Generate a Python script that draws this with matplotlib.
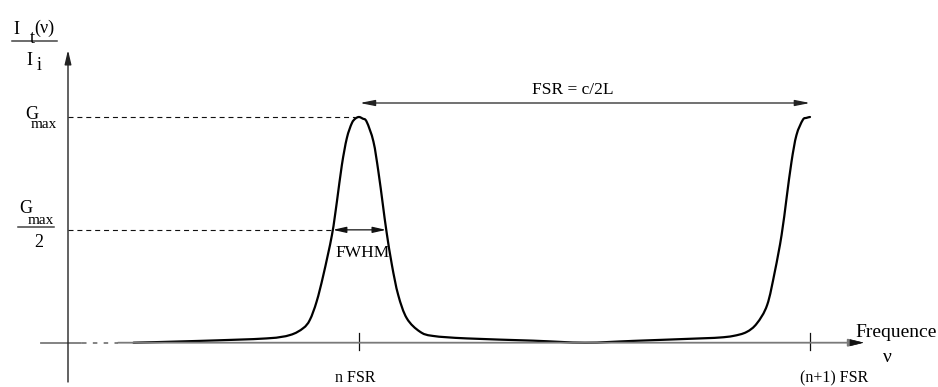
import matplotlib
matplotlib.use('Agg')
import matplotlib.pyplot as plt
from matplotlib.path import Path
from matplotlib.patches import PathPatch

# ---- data ----
# frequency in units of FSR (0 = n FSR, 1 = (n+1) FSR)
freq = [-0.500, -0.353, -0.205, -0.153, -0.124, -0.109, -0.094, -0.079, -0.060,
        -0.049, -0.038, -0.027, -0.016, -0.008, 0.000, 0.008, 0.017, 0.032, 0.043,
        0.053, 0.061, 0.073, 0.087, 0.106, 0.135, 0.164, 0.239, 0.386, 0.501,
        0.608, 0.756, 0.800, 0.830, 0.859, 0.882, 0.905, 0.922, 0.937, 0.948,
        0.959, 0.970, 0.984, 0.992, 1.000]
# transmission I_t/I_i in units of G_max
trans = [0.000, 0.008, 0.019, 0.034, 0.064, 0.101, 0.182, 0.300, 0.477,
         0.625, 0.787, 0.906, 0.972, 0.993, 1.000, 0.993, 0.979, 0.891, 0.758,
         0.610, 0.492, 0.344, 0.211, 0.108, 0.049, 0.030, 0.019, 0.009, 0.000,
         0.008, 0.019, 0.023, 0.030, 0.047, 0.085, 0.167, 0.315, 0.477, 0.640,
         0.802, 0.920, 0.987, 0.996, 1.000]

tick_positions = [0.0, 1.0]
tick_labels = ['n FSR', '(n+1) FSR']
level_gmax = 1.0
level_half = 0.5
fwhm_bounds = [-0.058, 0.060]
fsr_bounds = [0.002, 1.0]

# ---- figure / coordinate system ----
W, H = 938, 387
fig = plt.figure(figsize=(W / 100, H / 100), dpi=100)
ax = fig.add_axes([0, 0, 1, 1])
x0_px, x1_px = 359.0, 810.0
y0_px, y1_px = 342.7, 117.0
sx = x1_px - x0_px
sy = y0_px - y1_px
ax.set_xlim(-x0_px / sx, (W - x0_px) / sx)
ax.set_ylim((y0_px - H) / sy, y0_px / sy)
ax.axis('off')


def P(xp, yp):
    return ((xp - x0_px) / sx, (y0_px - yp) / sy)


SERIF = ['Liberation Serif', 'DejaVu Serif']
fs = 12.5

# ---- axes ----
yaxis_x = P(68, 0)[0]
ax.annotate('', xy=P(68, 50), xytext=P(68, 382),
            arrowprops=dict(arrowstyle='-|>,head_length=0.85,head_width=0.2',
                            lw=1.0, color='#222222', shrinkA=0, shrinkB=0))
axis_gray = '#7a7a7a'
ax.plot([P(41, 0)[0], P(81, 0)[0]], [0, 0], color=axis_gray, lw=1.3)
ax.plot([P(82, 0)[0], P(118, 0)[0]], [0, 0], color=axis_gray, lw=1.3,
        linestyle=(0, (2.5, 3.5)))
ax.annotate('', xy=P(864, y0_px), xytext=P(118, y0_px),
            arrowprops=dict(arrowstyle='-|>,head_length=0.9,head_width=0.22',
                            lw=1.3, color=axis_gray, shrinkA=0, shrinkB=0))
ax.annotate('', xy=P(864, y0_px), xytext=P(852, y0_px),
            arrowprops=dict(arrowstyle='-|>,head_length=0.9,head_width=0.22',
                            lw=0.5, color='#111111', shrinkA=0, shrinkB=0))

# ticks
tick_lo = P(0, 350)[1]
tick_hi = P(0, 333)[1]
for tp, tl in zip(tick_positions, tick_labels):
    ax.plot([tp, tp], [tick_lo, tick_hi], color='#111111', lw=0.9)
    ax.text(tp - 4 / sx if tp == 0 else tp + 24 / sx, P(0, 382.5)[1], tl,
            ha='center', va='baseline', fontsize=11.5, family=SERIF)

# ---- dashed reference levels ----
ax.plot([yaxis_x, P(355, 0)[0]], [level_gmax, level_gmax], color='#111111',
        lw=0.8, linestyle=(0, (4.5, 3.5)))
ax.plot([yaxis_x, fwhm_bounds[0]], [level_half, level_half], color='#111111',
        lw=0.8, linestyle=(0, (4.5, 3.5)))

# ---- curve (smooth Bezier path through the read points) ----
pts = list(zip(freq, trans))
n = len(pts)
verts = [pts[0]]
codes = [Path.MOVETO]
for i in range(n - 1):
    p0 = pts[i - 1] if i > 0 else pts[i]
    p1 = pts[i]
    p2 = pts[i + 1]
    p3 = pts[i + 2] if i + 2 < n else pts[i + 1]
    c1 = (p1[0] + (p2[0] - p0[0]) / 6.0, p1[1] + (p2[1] - p0[1]) / 6.0)
    c2 = (p2[0] - (p3[0] - p1[0]) / 6.0, p2[1] - (p3[1] - p1[1]) / 6.0)
    verts += [c1, c2, p2]
    codes += [Path.CURVE4, Path.CURVE4, Path.CURVE4]
ax.add_patch(PathPatch(Path(verts, codes), facecolor='none', edgecolor='black',
                       lw=1.6, capstyle='round', joinstyle='round'))

# ---- FWHM arrow ----
ax.annotate('', xy=(fwhm_bounds[1], level_half), xytext=(fwhm_bounds[0], level_half),
            arrowprops=dict(arrowstyle='<|-|>,head_length=0.8,head_width=0.18',
                            lw=0.9, color='#111111', shrinkA=0, shrinkB=0))
ax.text(P(363, 0)[0], P(0, 257)[1], 'FWHM', ha='center', va='baseline',
        fontsize=fs, family=SERIF)

# ---- FSR arrow ----
fsr_y = P(0, 103)[1]
ax.annotate('', xy=(fsr_bounds[1], fsr_y), xytext=(fsr_bounds[0], fsr_y),
            arrowprops=dict(arrowstyle='<|-|>,head_length=0.9,head_width=0.18',
                            lw=0.9, color='#222222', shrinkA=0, shrinkB=0))
ax.text(P(573, 0)[0], P(0, 94)[1], 'FSR = c/2L', ha='center', va='baseline',
        fontsize=fs, family=SERIF)

# ---- x axis label ----
ax.text(*P(855, 337), 'Frequence', ha='left', va='baseline', fontsize=14,
        family=SERIF)
ax.text(*P(887.5, 362), 'ν', ha='center', va='baseline', fontsize=14,
        family=SERIF)

# ---- y axis label: I_t(nu) / I_i ----
ax.text(*P(16, 34), 'I', ha='center', va='baseline', fontsize=13, family=SERIF)
ax.text(*P(32, 43), 't', ha='center', va='baseline', fontsize=13, family=SERIF)
ax.text(*P(44.5, 33), '(ν)', ha='center', va='baseline', fontsize=13, family=SERIF)
ax.plot([P(12, 0)[0], P(57, 0)[0]], [P(0, 41)[1]] * 2, color='#444444', lw=1.1)
ax.text(*P(29.5, 65), 'I', ha='center', va='baseline', fontsize=13, family=SERIF)
ax.text(*P(39, 70), 'i', ha='center', va='baseline', fontsize=13, family=SERIF)

# ---- G_max label ----
ax.text(*P(32, 119), 'G', ha='center', va='baseline', fontsize=13, family=SERIF)
ax.text(*P(43.5, 128), 'max', ha='center', va='baseline', fontsize=11, family=SERIF)

# ---- G_max / 2 label ----
ax.text(*P(25.5, 213), 'G', ha='center', va='baseline', fontsize=13, family=SERIF)
ax.text(*P(41, 224), 'max', ha='center', va='baseline', fontsize=11, family=SERIF)
ax.plot([P(18, 0)[0], P(54, 0)[0]], [P(0, 226.7)[1]] * 2, color='#444444', lw=1.1)
ax.text(*P(39, 247), '2', ha='center', va='baseline', fontsize=13, family=SERIF)

fig.savefig('out.png', dpi=100)
